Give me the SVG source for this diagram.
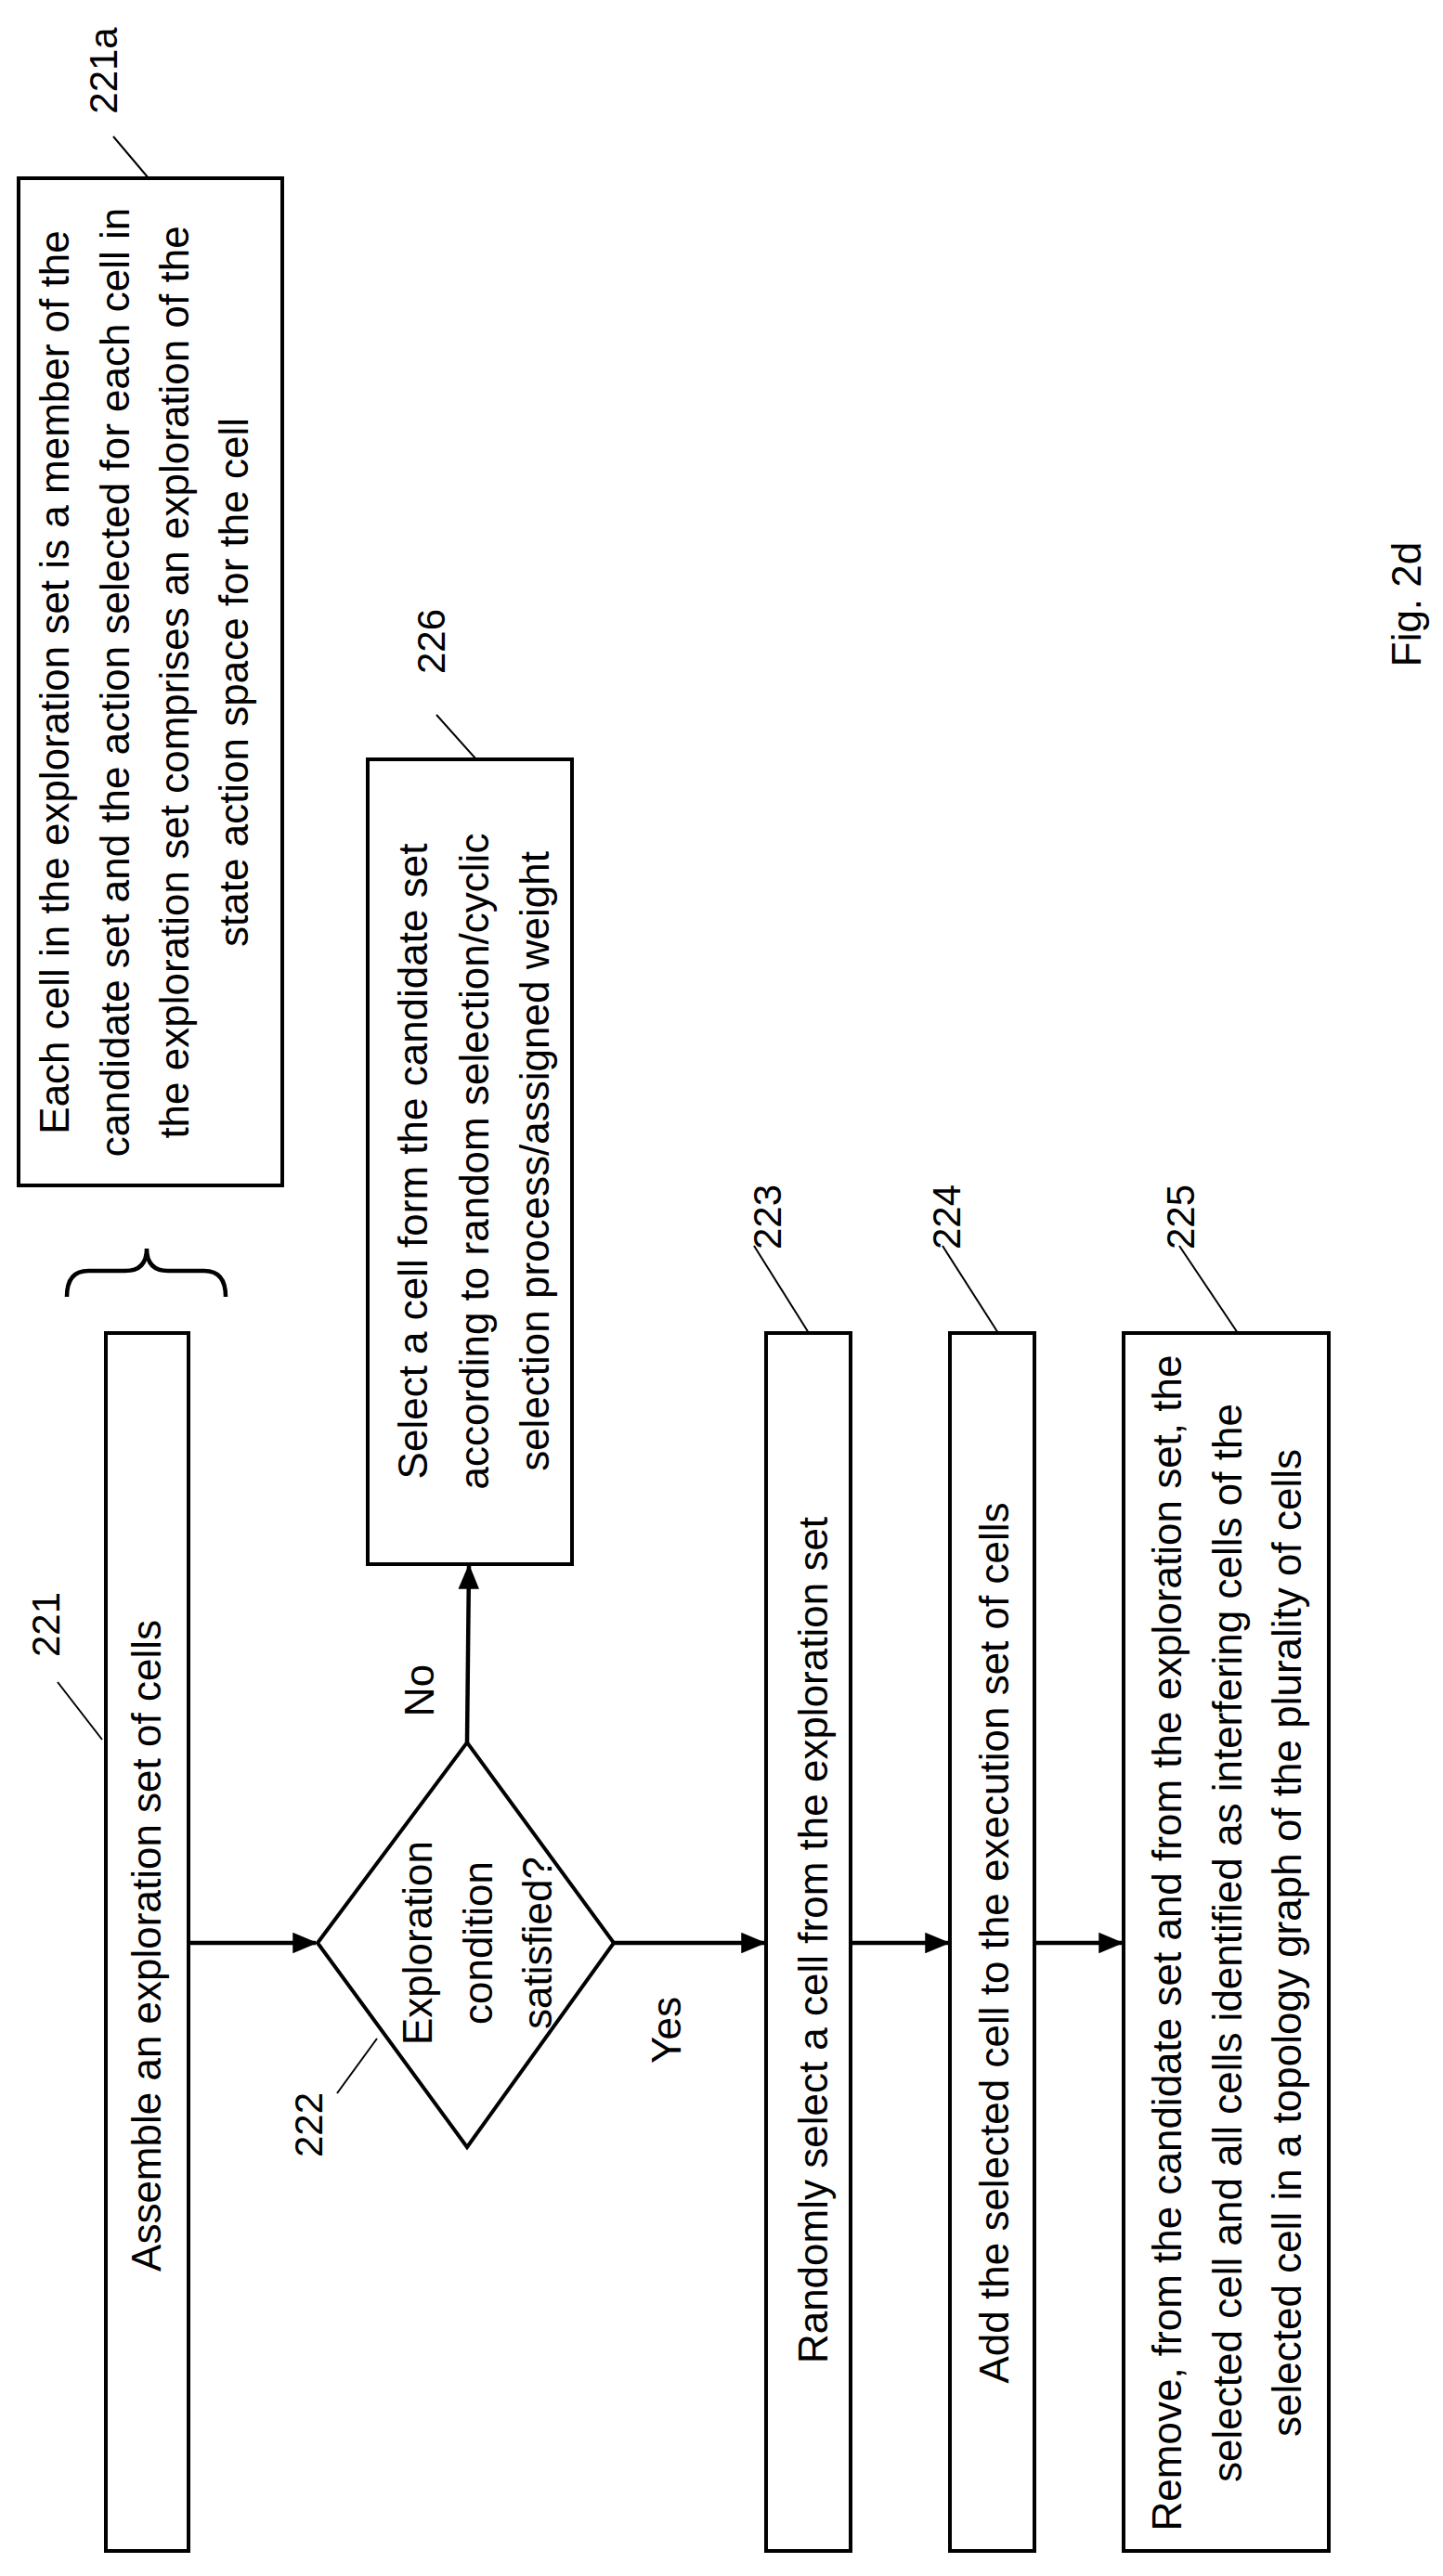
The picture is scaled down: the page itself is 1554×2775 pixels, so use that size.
<svg xmlns="http://www.w3.org/2000/svg" width="1554" height="2775" viewBox="0 0 1554 2775">
<style>
.b{fill:#fff;stroke:#000;stroke-width:4}
.l{fill:none;stroke:#000;stroke-width:2}
.c{fill:none;stroke:#000;stroke-width:4.5}
text{font-family:"Liberation Sans",Arial,sans-serif;font-size:44px;fill:#000;text-anchor:middle}
.n{font-size:42px}
</style>
<defs><marker id="a" markerWidth="6" markerHeight="5" refX="5.5" refY="2.5" orient="auto" markerUnits="strokeWidth"><path d="M0,0 L6,2.5 L0,5 Z" fill="#000"/></marker></defs>
<rect width="1554" height="2775" fill="#fff"/>
<g id="n221a">
<rect class="b" x="20" y="192" width="284" height="1085"/>
<text transform="translate(59,735) rotate(-90)" y="15">Each cell in the exploration set is a member of the</text>
<text transform="translate(124,735) rotate(-90)" y="15">candidate set and the action selected for each cell in</text>
<text transform="translate(188,735) rotate(-90)" y="15">the exploration set comprises an exploration of the</text>
<text transform="translate(252,735) rotate(-90)" y="15">state action space for the cell</text>
<line class="l" x1="122" y1="147" x2="160" y2="192"/>
<text class="n" transform="translate(112,76) rotate(-90)" y="14">221a</text>
<path class="c" d="M72,1397 Q72,1369 95,1369 L135,1369 Q158,1369 158,1345 Q158,1369 181,1369 L220,1369 Q243,1369 243,1397" stroke-width="4"/>
</g>
<g id="n221">
<rect class="b" x="114" y="1436" width="89" height="1312"/>
<text transform="translate(158,2096) rotate(-90)" y="15">Assemble an exploration set of cells</text>
<line class="l" x1="62" y1="1812" x2="110" y2="1874"/>
<text class="n" transform="translate(50,1750) rotate(-90)" y="14">221</text>
</g>
<g id="n222">
<polygon class="b" points="342,2093 503,1877 661,2093 503,2313"/>
<text transform="translate(450,2093) rotate(-90)" y="15">Exploration</text>
<text transform="translate(515,2093) rotate(-90)" y="15">condition</text>
<text transform="translate(579,2093) rotate(-90)" y="15">satisfied?</text>
<line class="l" x1="363" y1="2255" x2="406" y2="2196"/>
<text class="n" transform="translate(333,2289) rotate(-90)" y="14">222</text>
</g>
<g id="n226">
<rect class="b" x="396" y="818" width="220" height="867"/>
<text transform="translate(445,1251) rotate(-90)" y="15">Select a cell form the candidate set</text>
<text transform="translate(511,1251) rotate(-90)" y="15">according to random selection/cyclic</text>
<text transform="translate(576,1251) rotate(-90)" y="15">selection process/assigned weight</text>
<line class="l" x1="470" y1="770" x2="513" y2="818"/>
<text class="n" transform="translate(465,691) rotate(-90)" y="14">226</text>
</g>
<g id="n223">
<rect class="b" x="825" y="1436" width="91" height="1312"/>
<text transform="translate(876,2090) rotate(-90)" y="15">Randomly select a cell from the exploration set</text>
<line class="l" x1="812" y1="1342" x2="871" y2="1436"/>
<text class="n" transform="translate(827,1311) rotate(-90)" y="14">223</text>
</g>
<g id="n224">
<rect class="b" x="1023" y="1436" width="91" height="1312"/>
<text transform="translate(1071,2093) rotate(-90)" y="15">Add the selected cell to the execution set of cells</text>
<line class="l" x1="1015" y1="1342" x2="1075" y2="1436"/>
<text class="n" transform="translate(1020,1311) rotate(-90)" y="14">224</text>
</g>
<g id="n225">
<rect class="b" x="1210" y="1436" width="221" height="1312"/>
<text transform="translate(1257,2093) rotate(-90)" y="15">Remove, from the candidate set and from the exploration set, the</text>
<text transform="translate(1322,2093) rotate(-90)" y="15">selected cell and all cells identified as interfering cells of the</text>
<text transform="translate(1386,2093) rotate(-90)" y="15">selected cell in a topology graph of the plurality of cells</text>
<line class="l" x1="1270" y1="1342" x2="1333" y2="1436"/>
<text class="n" transform="translate(1272,1311) rotate(-90)" y="14">225</text>
</g>
<g id="connectors">
<line class="c" x1="203" y1="2093" x2="340" y2="2093" marker-end="url(#a)"/>
<line class="c" x1="503" y1="1877" x2="505" y2="1687" marker-end="url(#a)"/>
<line class="c" x1="661" y1="2093" x2="823" y2="2093" marker-end="url(#a)"/>
<line class="c" x1="916" y1="2093" x2="1021" y2="2093" marker-end="url(#a)"/>
<line class="c" x1="1114" y1="2093" x2="1208" y2="2093" marker-end="url(#a)"/>
<text transform="translate(452,1821) rotate(-90)" y="15">No</text>
<text transform="translate(718,2187) rotate(-90)" y="15">Yes</text>
</g>
<text transform="translate(1512,651) rotate(-90)" y="18" font-size="52">Fig. 2d</text>
</svg>
